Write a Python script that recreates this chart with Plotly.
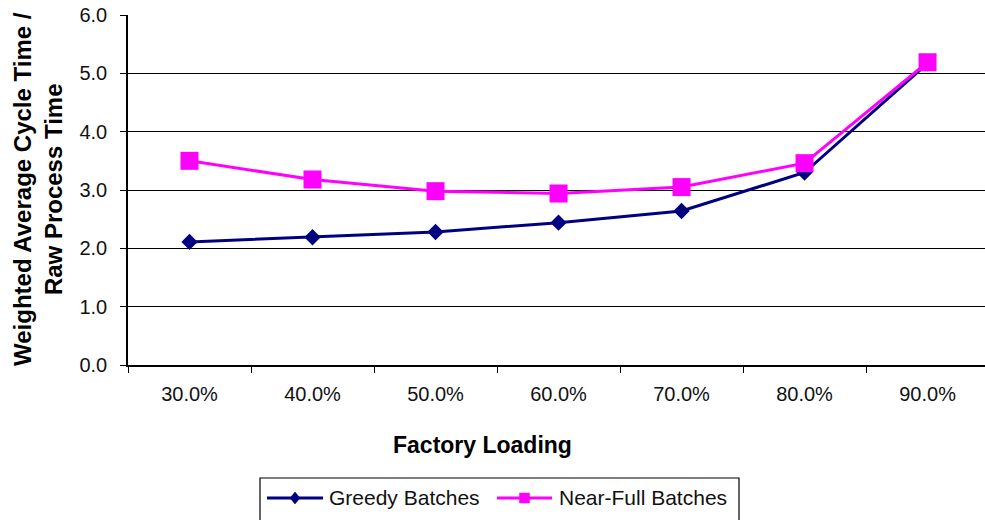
import plotly.graph_objects as go

# Factory loading levels (category axis) and cycle-time ratios per batching policy
loading = ["30.0%", "40.0%", "50.0%", "60.0%", "70.0%", "80.0%", "90.0%"]
greedy = [2.11, 2.19, 2.28, 2.44, 2.64, 3.30, 5.17]
near_full = [3.50, 3.18, 2.98, 2.94, 3.05, 3.46, 5.19]
series_names = ["Greedy Batches", "Near-Full Batches"]
y_ticks = [0, 1, 2, 3, 4, 5, 6]
y_ticktext = ["0.0", "1.0", "2.0", "3.0", "4.0", "5.0", "6.0"]

NAVY = "#000080"
MAGENTA = "#FF00FF"
FONT = "Liberation Sans, Arial, sans-serif"

# plot-area geometry in pixels (used to place the hand-drawn legend and titles)
W, H = 985, 520
L, R, T, B = 128, 0, 15, 155
PW, PH = W - L - R, H - T - B


def px(x):
    return (x - L) / PW


def py(y):
    return (H - B - y) / PH


fig = go.Figure()
fig.add_trace(go.Scatter(
    x=loading, y=greedy, name=series_names[0], mode="lines+markers",
    line=dict(color=NAVY, width=3),
    marker=dict(symbol="diamond", size=12.5, color=NAVY),
    showlegend=False,
))
fig.add_trace(go.Scatter(
    x=loading, y=near_full, name=series_names[1], mode="lines+markers",
    line=dict(color=MAGENTA, width=3),
    marker=dict(symbol="square", size=18, color=MAGENTA),
    showlegend=False,
))

fig.update_layout(
    width=W, height=H,
    margin=dict(l=L, r=R, t=T, b=B, autoexpand=False),
    paper_bgcolor="white", plot_bgcolor="white",
    font=dict(family=FONT, color="#111", size=20),
    xaxis=dict(
        type="category", range=[-0.5, 6.467], automargin=False,
        showline=True, linecolor="black", linewidth=1.5,
        ticks="outside", tickson="boundaries", ticklen=6, tickwidth=1.2,
        tickcolor="black", showgrid=False, ticklabelstandoff=10,
        tickfont=dict(size=20, family=FONT, color="#111"),
    ),
    yaxis=dict(
        range=[0, 6], automargin=False, tickvals=y_ticks, ticktext=y_ticktext,
        showline=True, linecolor="black", linewidth=1.5,
        ticks="outside", ticklen=6, tickwidth=1.2, tickcolor="black",
        showgrid=True, gridcolor="black", gridwidth=1.2, zeroline=False,
        ticklabelstandoff=9,
        tickfont=dict(size=20, family=FONT, color="#111"),
    ),
)

# axis titles
fig.add_annotation(
    text="Factory Loading", xref="paper", yref="paper",
    x=px(482), y=py(445), xanchor="center", yanchor="middle", showarrow=False,
    font=dict(size=23, family=FONT, color="black", weight="bold"),
)
fig.add_annotation(
    text="Weighted Average Cycle Time /<br>Raw Process Time",
    xref="paper", yref="paper", x=px(38), y=py(189), textangle=-90,
    xanchor="center", yanchor="middle", showarrow=False,
    font=dict(size=24, family=FONT, color="black", weight="bold"),
)

# legend box drawn with shapes and annotations (bottom edge runs past the page)
fig.add_shape(type="rect", xref="paper", yref="paper",
              x0=px(260), x1=px(739), y0=py(526), y1=py(478),
              line=dict(color="black", width=1.2), fillcolor="white", layer="above")

legend_items = [
    (series_names[0], NAVY, 267, 323, "diamond", 327),
    (series_names[1], MAGENTA, 497, 552, "square", 557),
]
LEG_Y = 498
for name, color, lx0, lx1, sym, tx in legend_items:
    fig.add_shape(type="line", xref="paper", yref="paper",
                  x0=px(lx0), x1=px(lx1), y0=py(LEG_Y), y1=py(LEG_Y),
                  line=dict(color=color, width=3), layer="above")
    cx = (lx0 + lx1) / 2
    if sym == "diamond":
        path = "M -5 0 L 0 6 L 5 0 L 0 -6 Z"
    else:
        path = "M -5 -5 L 5 -5 L 5 5 L -5 5 Z"
    fig.add_shape(type="path", xref="paper", yref="paper",
                  xsizemode="pixel", ysizemode="pixel",
                  xanchor=px(cx), yanchor=py(LEG_Y), path=path,
                  fillcolor=color, line=dict(color=color, width=0.5), layer="above")
    fig.add_annotation(text=name, xref="paper", yref="paper",
                       x=px(tx), y=py(LEG_Y), xanchor="left", yanchor="middle",
                       showarrow=False,
                       font=dict(size=21, family=FONT, color="#111"))

fig.write_html("out.html")
